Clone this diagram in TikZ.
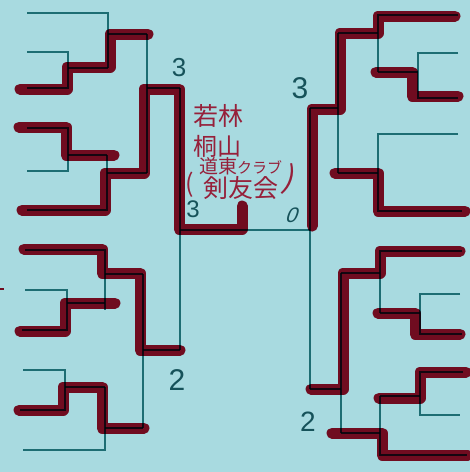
\documentclass[tikz,border=0pt]{standalone}
\usepackage{fontspec}
\setmainfont{Liberation Sans}
\newfontfamily\jp{Noto Sans CJK JP}
\definecolor{paper}{RGB}{168,218,224}
\definecolor{thinline}{RGB}{45,128,132}
\definecolor{marker}{RGB}{112,12,32}
\definecolor{ink}{RGB}{150,32,58}
\definecolor{digit}{RGB}{22,82,90}
\tikzset{
  tealline/.style={draw=thinline, line width=1.3pt},
  redpen/.style={draw=marker, line width=11pt, line cap=round, line join=round},
  score/.style={text=digit, font=\fontsize{26}{26}\selectfont, inner sep=0pt},
  jptext/.style={text=ink, inner sep=0pt},
}
\begin{document}
\begin{tikzpicture}[x=1pt,y=-1pt]
\fill[paper] (0,0) rectangle (470,472);
\useasboundingbox (0,0) rectangle (470,472);

% ---------- red marker (winners) ----------
% left top quarter
\draw[redpen] (20,89) -- (67,89) -- (67,67) -- (110,67) -- (110,34) -- (148,34);
\draw[redpen] (22,210) -- (105,210) -- (105,173) -- (144,173) -- (144,89) -- (179,89) -- (179,229) -- (242,229) -- (242,206);
\draw[redpen] (19,127) -- (66,127) -- (66,155) -- (114,155);
% left bottom quarter
\draw[redpen] (24,249) -- (102,249) -- (102,273) -- (140,273) -- (140,350) -- (180,350);
\draw[redpen] (20,331) -- (65,331) -- (65,303) -- (115,303);
\draw[redpen] (19,410) -- (63,410) -- (63,387) -- (102,387) -- (102,428) -- (144,428);
% right top quarter
\draw[redpen] (455,16) -- (378,16) -- (378,33) -- (340,33) -- (340,109) -- (312,109) -- (312,226);
\draw[redpen] (458,96) -- (412,96) -- (412,72) -- (376,72);
\draw[redpen] (335,173) -- (378,173) -- (378,211) -- (465,211);
% right bottom quarter
\draw[redpen] (460,251) -- (380,251) -- (380,273) -- (343,273) -- (343,389) -- (311,389);
\draw[redpen] (460,334) -- (415,334) -- (415,313) -- (378,313);
\draw[redpen] (466,372) -- (420,372) -- (420,398) -- (379,398);
\draw[redpen] (468,455) -- (382,455) -- (382,433) -- (332,433);
% small mark at the left edge
\draw[draw=marker, line width=2pt] (0,289) -- (4,289);

% ---------- thin bracket lines ----------
\begin{scope}[blend mode=multiply]
% left top
\draw[tealline] (27,13) -| (108,68);
\draw[tealline] (27,52) -| (68,88) -- (27,88);
\draw[tealline] (68,68) -- (108,68);
\draw[tealline] (108,34) -- (147,34);
\draw[tealline] (27,128) -| (68,171) -- (27,171);
\draw[tealline] (68,155) -- (107,155);
\draw[tealline] (107,155) |- (27,210);
\draw[tealline] (107,173) -- (147,173);
\draw[tealline] (147,34) -- (147,173);
\draw[tealline] (147,88) -- (180,88);
% left bottom
\draw[tealline] (25,250) -| (105,310);
\draw[tealline] (25,290) -| (67,330) -- (22,330);
\draw[tealline] (67,303) -- (105,303);
\draw[tealline] (105,274) -- (143,274);
\draw[tealline] (23,370) -| (65,410) -- (20,410);
\draw[tealline] (65,387) -- (105,387);
\draw[tealline] (105,387) |- (23,450);
\draw[tealline] (105,428) -- (143,428);
\draw[tealline] (143,274) -- (143,428);
\draw[tealline] (143,350) -- (180,350);
\draw[tealline] (180,88) -- (180,350);
% final
\draw[tealline] (180,230) -- (310,230);
% right top
\draw[tealline] (458,15) -| (378,72);
\draw[tealline] (458,53) -| (418,98) -- (458,98);
\draw[tealline] (418,72) -- (378,72);
\draw[tealline] (378,33) -- (338,33);
\draw[tealline] (458,134) -| (378,211) -- (462,211);
\draw[tealline] (378,173) -- (338,173);
\draw[tealline] (338,33) -- (338,173);
\draw[tealline] (338,108) -- (310,108);
% right bottom
\draw[tealline] (462,251) -| (380,313);
\draw[tealline] (460,294) -| (420,334) -- (462,334);
\draw[tealline] (420,313) -- (380,313);
\draw[tealline] (380,273) -- (341,273);
\draw[tealline] (463,372) -| (420,415) -- (460,415);
\draw[tealline] (420,396) -- (380,396);
\draw[tealline] (380,396) |- (467,455);
\draw[tealline] (380,433) -- (341,433);
\draw[tealline] (341,273) -- (341,433);
\draw[tealline] (341,389) -- (310,389);
\draw[tealline] (310,108) -- (310,389);
\end{scope}

% ---------- scores ----------
\node[score] (s1) at (179,68) {3};
\node[score, font=\fontsize{24}{24}\selectfont] (s2) at (193,209) {3};
\node[score, font=\fontsize{30}{30}\selectfont] (s3) at (177,380) {2};
\node[score, font=\fontsize{30}{30}\selectfont] (s4) at (300,88) {3};
\node[score, font=\fontsize{21}{21}\selectfont, xslant=0.35] (s5) at (293,215) {0};
\node[score, font=\fontsize{28}{28}\selectfont] (s6) at (308,422) {2};

% ---------- team name ----------
\node[jptext, font=\jp\fontsize{25}{25}\selectfont] (t1) at (218,116) {若林};
\node[jptext, font=\jp\fontsize{24}{24}\selectfont] (t2) at (217,146) {桐山};
\node[jptext, anchor=west] (t3) at (199,166) {\jp{\fontsize{19}{19}\selectfont 道東}{\fontsize{15}{15}\selectfont クラブ}};
\node[jptext, font=\jp\fontsize{25}{25}\selectfont] (t4) at (241,188) {剣友会};
\node[jptext, font=\jp\fontsize{25}{25}\selectfont] (p1) at (190,185) {(};
\node[jptext, font=\jp\fontsize{32}{32}\selectfont, rotate=-18] (p2) at (290,180) {)};
\end{tikzpicture}
\end{document}
